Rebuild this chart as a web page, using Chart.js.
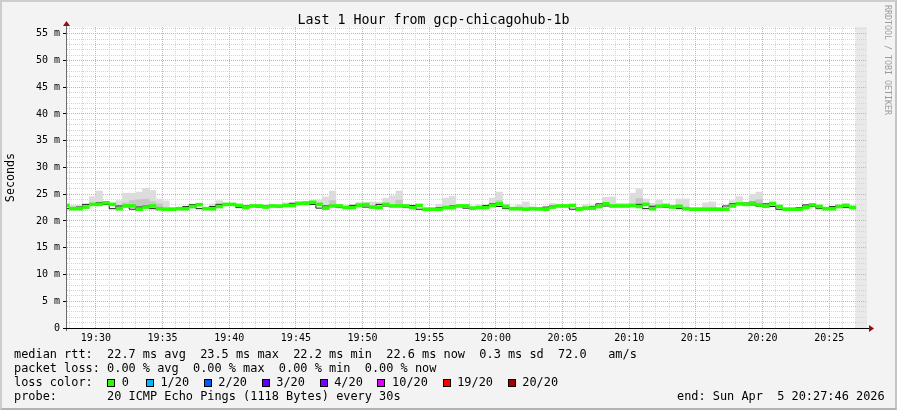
<!DOCTYPE html>
<html>
<head>
<meta charset="utf-8">
<title>Last 1 Hour from gcp-chicagohub-1b</title>
<script src="https://cdn.jsdelivr.net/npm/chart.js@4.4.1/dist/chart.umd.min.js"></script>
<style>
  html, body { margin: 0; padding: 0; background: #fff; }
  #wrap { position: relative; width: 897px; height: 410px; background: #f3f3f3; overflow: hidden;
          font-family: 'DejaVu Sans Mono', monospace; color: #000; }
  #box { position: absolute; left: 0; top: 0; width: 897px; height: 410px; }
  #frame { position: absolute; left: 0; top: 0; width: 897px; height: 410px; box-sizing: border-box;
           border: 2px solid #cdcdcd; border-right-color: #c4c4c4; border-bottom-color: #b2b2b2; pointer-events: none; }
  .leg { position: absolute; left: 14px; font-size: 11.9px; line-height: 14px; white-space: pre; }
  .sw { display: inline-block; margin-right: 14.6px; }
  .sw:first-child { margin-right: 16.8px; }
  .sw i { display: inline-block; width: 6px; height: 6px; border: 1px solid #000; margin-right: 6.7px; vertical-align: -1px; }
  #mark { position: absolute; left: 883px; top: 5px; writing-mode: vertical-rl; font-size: 8.3px; line-height: 9px;
          color: #9c9c9c; white-space: pre; }
</style>
</head>
<body>
<div id="wrap">
  <div id="box"><canvas id="chart"></canvas></div>
  <div id="mark">RRDTOOL / TOBI OETIKER</div>
  <div class="leg" style="top:347px">median rtt:  22.7 ms avg  23.5 ms max  22.2 ms min  22.6 ms now  0.3 ms sd  72.0   am/s</div>
  <div class="leg" style="top:361px">packet loss: 0.00 % avg  0.00 % max  0.00 % min  0.00 % now</div>
  <div class="leg" style="top:375px">loss color:  <span id="lossRow"></span></div>
  <div class="leg" style="top:389px">probe:       20 ICMP Echo Pings (1118 Bytes) every 30s</div>
  <div class="leg" style="top:389px;left:677px">end: Sun Apr  5 20:27:46 2026</div>
  <div id="frame"></div>
</div>
<script>
// smokeping-style latency graph, 30 s steps

const viewStart = '19:27:50';
const viewEnd = '20:27:50';
const slotStart = '19:27:30';     // first (partly hidden) step
const stepSec = 30;
const unknownFrom = '20:27:00';   // no data after this

const timeLabels = ['19:30','19:35','19:40','19:45','19:50','19:55','20:00','20:05','20:10','20:15','20:20','20:25'];

// median rtt per step, ms
const medianRtt = [22.9,
  22.3,22.3,22.6,23.1,23.1,23.4,23.1,22.3,22.8,22.8,
  22.2,22.6,22.8,22.3,22.2,22.2,22.3,22.3,22.7,23.05,
  22.3,22.3,22.7,23.1,23.1,22.9,22.5,22.8,22.8,22.6,
  22.8,22.75,22.9,22.9,23.3,23.3,23.5,23.1,22.4,22.8,
  22.8,22.5,22.5,22.9,23.1,22.6,22.5,23.1,22.8,22.8,
  22.8,22.5,22.9,22.2,22.2,22.2,22.5,22.5,22.8,22.8,
  22.4,22.5,22.5,22.9,23.2,22.7,22.3,22.3,22.2,22.3,
  22.25,22.2,22.6,22.8,22.8,22.9,22.2,22.4,22.4,22.7,
  23.2,22.8,22.8,22.8,22.9,22.7,23.1,22.3,22.75,22.9,
  22.6,22.75,22.3,22.2,22.2,22.2,22.2,22.2,22.2,22.8,
  23.2,23.1,23.35,23.0,22.75,23.2,22.7,22.2,22.2,22.2,
  22.5,23.0,22.7,22.3,22.3,22.7,22.9,22.5];

// top of the smoke (slowest pings) per step, ms
const smokeTop = [23.1,
  22.9,22.9,22.8,24.55,25.6,23.5,23.3,23.8,25.2,25.2,
  25.4,26.1,25.7,24.1,23.75,22.5,22.5,22.6,23.0,23.2,
  22.5,23.2,23.8,23.2,23.3,23.1,22.8,23.1,23.1,23.1,
  23.1,23.0,23.4,23.4,23.5,23.5,23.7,23.9,24.5,25.6,
  23.1,22.9,23.1,23.5,23.3,23.55,23.5,24.25,24.7,25.6,
  23.1,22.8,23.0,22.4,22.4,23.1,24.25,24.6,23.1,23.1,
  22.7,23.0,23.0,24.3,25.4,23.2,22.6,23.0,23.55,22.6,
  22.5,22.4,23.3,23.0,23.0,23.1,22.5,23.0,23.0,22.9,
  24.4,24.5,23.3,23.3,25.2,26.0,24.1,23.3,23.9,23.0,
  22.9,24.1,24.1,22.4,22.4,23.4,23.55,22.4,22.4,23.8,
  24.55,23.3,25.0,25.4,23.0,23.75,22.9,22.4,22.4,22.4,
  22.9,23.2,22.9,22.5,22.5,22.9,23.2,22.9];

// denser inner smoke on a few steps (step index from 19:28:00, top in ms)
const smokeMidSlots = [8, 9, 10, 11, 12, 13, 39, 49, 64, 85, 103];
const smokeMidTop = [23.4, 23.8, 24.0, 24.1, 23.6, 23.2, 23.8, 23.9, 23.8, 24.2, 24.0];

const lossLabels = ['0','1/20','2/20','3/20','4/20','10/20','19/20','20/20'];
const lossColors = ['#26ff00','#00b8ff','#0059ff','#5e00ff','#7e00ff','#dd00ff','#ff0000','#a10000'];

function toSec(s){ const p = s.split(':').map(Number); return p[0]*3600 + p[1]*60 + (p[2]||0); }

const t0 = toSec(slotStart);
const xMin = toSec(viewStart), xMax = toSec(viewEnd);
const majorX = new Map(timeLabels.map(l => [toSec(l), l]));
const FONT = "'DejaVu Sans Mono', monospace";

// legend swatches
const lossRow = document.getElementById('lossRow');
lossLabels.forEach((l, i) => {
  const s = document.createElement('span');
  s.className = 'sw';
  s.innerHTML = '<i style="background:' + lossColors[i] + '"></i>' + l;
  lossRow.appendChild(s);
});

const center = k => t0 + k*stepSec + stepSec/2;
const smokeData = medianRtt.map((v, k) => ({x: center(k), y: [v, Math.max(v, smokeTop[k])]}));
const midData = smokeMidSlots.map((k, i) => ({x: center(k+1), y: [medianRtt[k+1], smokeMidTop[i]]}));
const greenData = medianRtt.map((v, k) => ({x: center(k), y: [v - 0.28, v + 0.28]}));
const stepLine = medianRtt.map((v, k) => ({x: t0 + k*stepSec, y: v}));
stepLine.push({x: t0 + medianRtt.length*stepSec, y: medianRtt[medianRtt.length-1]});

const barCommon = { type: 'bar', grouped: false, barPercentage: 1, categoryPercentage: 1, borderWidth: 0 };

const MINOR = '#d4d4d4', MAJOR = '#f0a0a0';

// 1px on / 1px off dots, pixel-snapped
function dots(ctx, horiz, fixed, from, to, color){
  ctx.fillStyle = color;
  const a = Math.ceil(Math.min(from, to)), b = Math.floor(Math.max(from, to));
  for (let p = a; p < b; p += 2) {
    if (horiz) ctx.fillRect(p, fixed, 1, 1);
    else ctx.fillRect(fixed, p, 1, 1);
  }
}

const framePlugin = {
  id: 'frame',
  beforeDraw(chart){
    const {ctx, chartArea: a, scales: {x}} = chart;
    ctx.save();
    ctx.fillStyle = '#ffffff';
    ctx.fillRect(a.left, a.top, a.right - a.left, a.bottom - a.top);
    const ux = x.getPixelForValue(toSec(unknownFrom));
    ctx.fillStyle = '#e9e9e9';
    ctx.fillRect(ux, a.top, a.right - ux, a.bottom - a.top);
    ctx.restore();
  },
  beforeDatasetsDraw(chart){
    // rrdtool-like dotted grid: minor grey, major red
    const {ctx, chartArea: a, scales: {x, y}} = chart;
    ctx.save();
    for (const pass of [false, true]) {
      y.ticks.forEach(t => {
        const major = t.value % 5 === 0;
        if (t.value === 0 || major !== pass) return;
        dots(ctx, true, Math.floor(y.getPixelForValue(t.value)), a.left, a.right, pass ? MAJOR : MINOR);
      });
      x.ticks.forEach(t => {
        const major = majorX.has(t.value);
        if (major !== pass) return;
        dots(ctx, false, Math.floor(x.getPixelForValue(t.value)), a.top, a.bottom, pass ? MAJOR : MINOR);
      });
    }
    ctx.restore();
  },
  afterDraw(chart){
    const {ctx, chartArea: a} = chart;
    ctx.save();
    ctx.lineWidth = 1;
    // y axis
    ctx.strokeStyle = '#6a6a6a';
    ctx.beginPath();
    ctx.moveTo(a.left - 0.5, a.bottom + 3);
    ctx.lineTo(a.left - 0.5, a.top - 4);
    ctx.stroke();
    // x axis
    ctx.strokeStyle = '#000';
    ctx.beginPath();
    ctx.moveTo(a.left - 4, a.bottom + 0.5);
    ctx.lineTo(a.right + 2, a.bottom + 0.5);
    ctx.stroke();
    // arrows
    ctx.fillStyle = '#8e1111';
    ctx.beginPath();
    ctx.moveTo(a.left - 4, a.top - 1);
    ctx.lineTo(a.left + 3, a.top - 1);
    ctx.lineTo(a.left - 0.5, a.top - 6);
    ctx.closePath();
    ctx.fill();
    ctx.beginPath();
    ctx.moveTo(a.right + 2, a.bottom - 3);
    ctx.lineTo(a.right + 2, a.bottom + 4);
    ctx.lineTo(a.right + 7, a.bottom + 0.5);
    ctx.closePath();
    ctx.fill();
    ctx.restore();
  }
};

new Chart(document.getElementById('chart'), {
  type: 'bar',
  data: {
    datasets: [
      Object.assign({ data: smokeData, backgroundColor: '#dcdcdc', order: 5 }, barCommon),
      Object.assign({ data: midData, backgroundColor: '#c6c6c6', order: 4 }, barCommon),
      { type: 'line', data: stepLine, stepped: 'after', borderColor: '#1a1a1a', borderWidth: 1,
        pointRadius: 0, fill: false, order: 2 },
      Object.assign({ data: greenData, backgroundColor: lossColors[0], order: 1 }, barCommon)
    ]
  },
  options: {
    responsive: true,
    maintainAspectRatio: false,
    animation: false,
    events: [],
    layout: { padding: { left: 0, top: -2, right: 30, bottom: 64 } },
    plugins: {
      legend: { display: false },
      tooltip: { enabled: false },
      title: {
        display: true,
        text: 'Last 1 Hour from gcp-chicagohub-1b',
        color: '#000',
        font: { family: FONT, size: 13.3, weight: 'normal', lineHeight: '12px' },
        padding: { top: 17, bottom: 0 }
      }
    },
    scales: {
      x: {
        type: 'linear',
        min: xMin, max: xMax,
        offset: false,
        afterBuildTicks(axis){
          const ticks = [];
          for (let v = Math.ceil(xMin/60)*60; v < xMax; v += 60) ticks.push({value: v});
          axis.ticks = ticks;
        },
        afterFit(scale){ scale.height = 18; },
        ticks: {
          autoSkip: false, maxRotation: 0, padding: 1, color: '#000',
          font: { family: FONT, size: 10 },
          callback: v => majorX.get(v) || ''
        },
        grid: { offset: false, drawOnChartArea: false, tickColor: 'transparent', tickLength: 3 },
        border: { display: false }
      },
      y: {
        min: 0, max: 56.25,
        afterBuildTicks(axis){
          const ticks = [];
          for (let v = 0; v <= 56; v++) ticks.push({value: v});
          axis.ticks = ticks;
        },
        afterFit(scale){ scale.width = 67; },
        ticks: {
          autoSkip: false, padding: 3, color: '#000',
          font: { family: FONT, size: 10 },
          callback: v => v % 5 === 0 ? (v === 0 ? '0' : v + ' m') : ''
        },
        grid: {
          drawOnChartArea: false,
          tickColor: c => (c.tick && c.tick.value % 5 === 0) ? '#000' : 'transparent',
          tickLength: 4
        },
        border: { display: false },
        title: {
          display: true, text: 'Seconds', color: '#000',
          font: { family: FONT, size: 11.7 },
          padding: { top: 4, bottom: 0 }
        }
      }
    }
  },
  plugins: [framePlugin]
});
</script>
</body>
</html>
